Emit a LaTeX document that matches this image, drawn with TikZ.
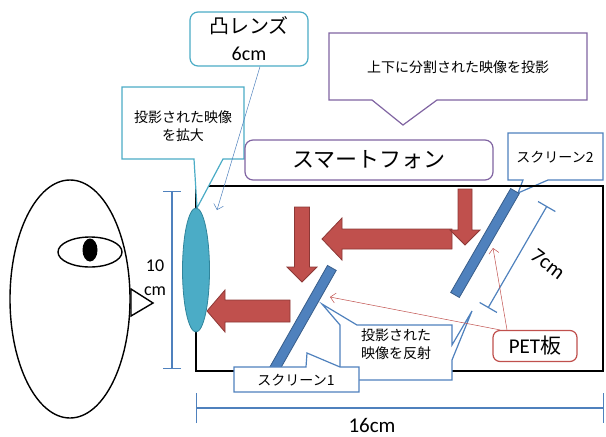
\documentclass[tikz,border=0pt]{standalone}
\usepackage{fontspec}
\setmainfont{Carlito}
\newfontfamily\jp{Noto Sans CJK JP}
\usetikzlibrary{shapes.geometric, arrows.meta}

\definecolor{lensteal}{HTML}{4BACC6}
\definecolor{lensedge}{HTML}{31859C}
\definecolor{screenblue}{HTML}{4F81BD}
\definecolor{screenedge}{HTML}{385D8A}
\definecolor{arrowred}{HTML}{C0504D}
\definecolor{arrowedge}{HTML}{8C3836}
\definecolor{phonepurple}{HTML}{8064A2}

% block arrow: tip, rotation, length, head length, shaft half width, head half width
\newcommand{\blockarrow}[6]{%
  \filldraw[redarrow, shift={#1}, rotate=#2] (0,0) -- (#4,-#6) -- (#4,-#5) -- (#3,-#5) -- (#3,#5) -- (#4,#5) -- (#4,#6) -- cycle;}

\begin{document}
\begin{tikzpicture}[x=1pt, y=-1pt,
	face/.style={draw, line width=1.4pt},
	dim/.style={draw=screenblue, line width=1.2pt, {Bar[width=18pt]}-{Bar[width=18pt]}},
	callout/.style={fill=white, line width=1.2pt},
	label/.style={font=\jp\fontsize{14}{18}\selectfont, align=center},
	redarrow/.style={fill=arrowred, draw=arrowedge, line width=0.8pt},
	screen/.style={rectangle, fill=screenblue, draw=screenedge, line width=0.8pt, minimum height=10pt, inner sep=0pt},
	lens/.style={ellipse, fill=lensteal, draw=lensedge, line width=0.8pt, minimum width=27pt, minimum height=124pt, inner sep=0pt},
	pointer/.style={-{Straight Barb[length=5pt]}, line width=0.5pt}]
	\useasboundingbox (0,0) rectangle (606,437);

	% the viewer
	\draw[face] (70,299) ellipse [x radius=60pt, y radius=119pt];
	\draw[face] (90,252) ellipse [x radius=32pt, y radius=15pt];
	\fill (90,250) ellipse [x radius=7.5pt, y radius=11.5pt];
	\draw[face, fill=white] (131,289) -- (153,303) -- (131,316) -- cycle;

	% sizes of the box
	\draw[dim] (172,191) -- (172,369);
	\node[font=\fontsize{18}{24}\selectfont, align=center] (ten) at (155,278) {10\\cm};
	\draw[dim, {Bar[width=30pt]}-{Bar[width=30pt]}] (196,408) -- (604,408);
	\node[font=\fontsize{21}{24}\selectfont, inner sep=1pt] (sixteen) at (372,425) {16cm};

	\draw[callout, draw=screenblue] (508,133) -- (603,133) -- (603,180) -- (548,180) -- (518,193) -- (523,180) -- (508,180) -- cycle;
	\node[label] (screen2 label) at (555,157) {スクリーン2};

	% box
	\draw[line width=1.4pt] (196,186) rectangle (603,371);

	% light path
	\blockarrow{(322,239)}{0}{130}{20}{10}{21}
	\blockarrow{(207,311)}{0}{83}{18}{11}{21}
	\blockarrow{(302,282)}{90}{75}{15}{7.5}{15}
	\blockarrow{(465,245)}{90}{56}{15}{7}{15}

	\node[screen, minimum width=129pt, rotate=60.4] (screen1) at (300,324) {};
	\node[screen, minimum width=120pt, rotate=60] (screen2) at (485,243) {};

	\draw[dim, {Bar[width=20pt]}-{Bar[width=20pt]}] (547,206) -- (488,308);
	\node[rotate=-37, font=\fontsize{21}{24}\selectfont, inner sep=0pt] (seven) at (548,264) {7cm};

	% callouts
	\draw[callout, draw=lensteal] (122,87) -- (244,87) -- (244,159) -- (223,159) -- (197,208) -- (194,159) -- (122,159) -- cycle;
	\node[label] (magnify) at (183,126) {投影された映像\\を拡大};

	\draw[callout, draw=phonepurple] (329,33) -- (587,33) -- (587,100) -- (437,100) -- (403,125) -- (372,100) -- (329,100) -- cycle;
	\node[label] (split) at (458,67) {上下に分割された映像を投影};

	\draw[callout, draw=screenblue] (340,325) -- (322,304) -- (357,325) -- (452,325) -- (452,345) -- (472,311) -- (452,360) -- (452,380) -- (340,380) -- cycle;
	\node[label] (reflect) at (396,344) {投影された\\映像を反射};

	\draw[callout, draw=screenblue] (234,367) -- (306,367) -- (307,353) -- (340,367) -- (359,367) -- (359,392) -- (234,392) -- cycle;
	\node[label] (screen1 label) at (296,380) {スクリーン1};

	\node[callout, draw=phonepurple, rounded corners=8pt, minimum width=248pt, minimum height=40pt, font=\jp\fontsize{22}{26}\selectfont] (phone) at (369,160) {スマートフォン};
	\node[callout, draw=lensteal, rounded corners=8pt, minimum width=118pt, minimum height=54pt, align=center, font=\fontsize{20}{27}\selectfont] (lens label) at (249,39) {{\jp 凸レンズ}\\6cm};
	\node[callout, draw=arrowred, rounded corners=7pt, minimum width=84pt, minimum height=31pt, font=\fontsize{21}{24}\selectfont] (pet) at (535,346) {PET{\jp 板}};

	\node[lens] (lens) at (196,270) {};

	% thin pointers
	\coordinate (lens tip) at (217,210);
	\coordinate (screen1 tip) at (330,297);
	\coordinate (screen2 tip) at (493,248);
	\draw[pointer, screenblue] ([xshift=11pt]lens label.south) -- (lens tip);
	\draw[pointer, arrowred] ([xshift=-35pt]pet.north) -- (screen1 tip);
	\draw[pointer, arrowred] ([xshift=-28pt]pet.north) -- (screen2 tip);
\end{tikzpicture}
\end{document}
